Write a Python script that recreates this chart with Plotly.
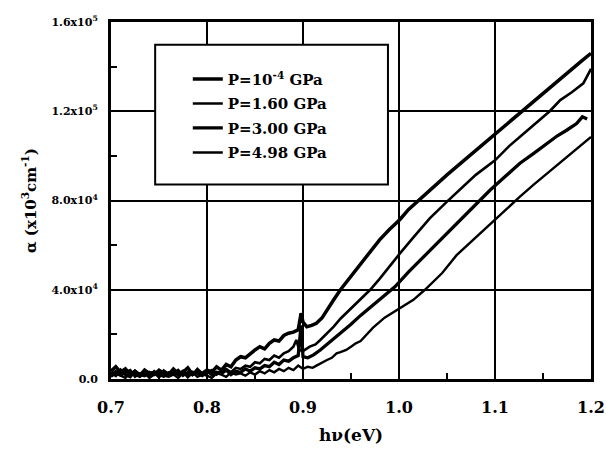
import plotly.graph_objects as go

# ---------------- data ----------------
noise_hv = [0.700, 0.705, 0.710, 0.715, 0.720, 0.725, 0.730, 0.735, 0.740,
            0.745, 0.750, 0.755, 0.760, 0.765, 0.770, 0.775, 0.780, 0.785,
            0.790, 0.795, 0.800, 0.805, 0.810, 0.815, 0.820, 0.825, 0.830]

# P = 1e-4 GPa
hv_a = noise_hv + [0.835, 0.840, 0.845, 0.850, 0.855, 0.860, 0.865, 0.870, 0.875,
                   0.880, 0.885, 0.890, 0.895, 0.898, 0.900, 0.904, 0.909, 0.914,
                   0.920, 0.925, 0.932, 0.939, 0.950, 0.960, 0.970, 0.980, 0.990,
                   1.001, 1.010, 1.020, 1.035, 1.050, 1.065, 1.080, 1.101, 1.115,
                   1.128, 1.145, 1.160, 1.175, 1.190, 1.200]
alpha_a = [0.35, 0.55, 0.30, 0.45, 0.20, 0.35, 0.15, 0.40, 0.25, 0.30, 0.10, 0.35,
           0.20, 0.45, 0.25, 0.30, 0.50, 0.20, 0.35, 0.25, 0.40, 0.30, 0.55, 0.40,
           0.65, 0.55, 0.85,
           1.00, 0.95, 1.15, 1.30, 1.45, 1.35, 1.60, 1.75, 1.70,
           1.95, 2.05, 2.10, 2.20, 2.95, 2.55, 2.34, 2.40, 2.50,
           2.75, 3.10, 3.55, 4.00, 4.60, 5.20, 5.75, 6.25, 6.70,
           7.15, 7.60, 8.00, 8.55, 9.15, 9.70, 10.25, 11.00, 11.50,
           12.00, 12.65, 13.20, 13.70, 14.25, 14.60]

# P = 1.60 GPa
hv_b = noise_hv + [0.835, 0.840, 0.845, 0.850, 0.855, 0.860, 0.865, 0.870, 0.875,
                   0.880, 0.885, 0.890, 0.893, 0.896, 0.900, 0.907, 0.913, 0.918,
                   0.925, 0.932, 0.939, 0.950, 0.960, 0.970, 0.980, 0.990, 1.001,
                   1.015, 1.032, 1.050, 1.065, 1.080, 1.100, 1.115, 1.130, 1.145,
                   1.157, 1.168, 1.180, 1.192, 1.200]
alpha_b = [0.20, 0.35, 0.15, 0.30, 0.40, 0.10, 0.25, 0.30, 0.15, 0.35, 0.20, 0.10,
           0.30, 0.25, 0.40, 0.15, 0.30, 0.20, 0.45, 0.25, 0.30, 0.40, 0.20, 0.35,
           0.45, 0.30, 0.50,
           0.45, 0.60, 0.55, 0.75, 0.70, 0.90, 0.85, 1.05, 0.95,
           1.15, 1.25, 1.45, 1.75, 1.30, 1.25, 1.45, 1.55, 1.75,
           2.05, 2.35, 2.70, 3.15, 3.55, 4.00, 4.50, 5.05, 5.63,
           6.35, 7.20, 7.95, 8.55, 9.15, 9.80, 10.45, 11.00, 11.55,
           12.00, 12.50, 12.85, 13.25, 13.90]

# P = 3.00 GPa
hv_c = noise_hv + [0.835, 0.840, 0.845, 0.850, 0.855, 0.860, 0.865, 0.870, 0.875,
                   0.880, 0.885, 0.890, 0.895, 0.898, 0.900, 0.905, 0.911, 0.918,
                   0.925, 0.932, 0.939, 0.950, 0.960, 0.973, 0.985, 0.996, 1.010,
                   1.025, 1.043, 1.060, 1.074, 1.095, 1.110, 1.126, 1.140, 1.154,
                   1.165, 1.175, 1.185, 1.191, 1.196]
alpha_c = [0.30, 0.15, 0.40, 0.20, 0.10, 0.35, 0.20, 0.15, 0.30, 0.20, 0.40, 0.25,
           0.15, 0.30, 0.20, 0.35, 0.10, 0.30, 0.25, 0.15, 0.35, 0.20, 0.30, 0.25,
           0.40, 0.20, 0.35,
           0.30, 0.45, 0.35, 0.50, 0.45, 0.60, 0.55, 0.75, 0.65,
           0.85, 0.80, 0.95, 1.05, 2.40, 1.00, 0.95, 1.08, 1.30,
           1.55, 1.80, 2.08, 2.45, 2.85, 3.33, 3.75, 4.14, 4.80,
           5.45, 6.23, 7.00, 7.60, 8.47, 9.05, 9.67, 10.10, 10.56,
           10.90, 11.16, 11.45, 11.75, 11.65]

# P = 4.98 GPa
hv_d = noise_hv + [0.835, 0.840, 0.845, 0.850, 0.855, 0.860, 0.865, 0.870, 0.875,
                   0.880, 0.885, 0.890, 0.895, 0.900, 0.905, 0.910, 0.914, 0.920,
                   0.925, 0.930, 0.935, 0.939, 0.945, 0.950, 0.955, 0.960, 0.965,
                   0.973, 0.985, 1.001, 1.015, 1.027, 1.045, 1.060, 1.080, 1.102,
                   1.115, 1.126, 1.140, 1.154, 1.165, 1.175, 1.185, 1.195, 1.200]
alpha_d = [0.10, 0.25, 0.15, 0.05, 0.30, 0.20, 0.10, 0.25, 0.05, 0.20, 0.30, 0.15,
           0.10, 0.20, 0.05, 0.25, 0.15, 0.30, 0.10, 0.20, 0.15, 0.05, 0.25, 0.20,
           0.10, 0.30, 0.20,
           0.25, 0.15, 0.30, 0.20, 0.35, 0.25, 0.40, 0.30, 0.45,
           0.35, 0.50, 0.40, 0.60, 0.45, 0.55, 0.50, 0.60, 0.75,
           0.85, 0.95, 1.15, 1.20, 1.30, 1.45, 1.60, 1.70, 1.95,
           2.30, 2.75, 3.17, 3.55, 4.00, 4.75, 5.55, 6.35, 7.20,
           7.75, 8.17, 8.70, 9.20, 9.60, 9.96, 10.35, 10.70, 10.85]

series_names = ["P=10<sup>-4</sup> GPa", "P=1.60 GPa", "P=3.00 GPa", "P=4.98 GPa"]
series_hv = [hv_a, hv_b, hv_c, hv_d]
series_alpha = [alpha_a, alpha_b, alpha_c, alpha_d]
line_widths = [3.5, 2.6, 3.3, 2.4]

x_tickvals = [0.7, 0.8, 0.9, 1.0, 1.1, 1.2]
x_ticktext = ["0.7", "0.8", "0.9", "1.0", "1.1", "1.2"]
y_tickvals = [0, 4, 8, 12, 16]
y_ticktext = ["0.0", "4.0x10<sup>4</sup>", "8.0x10<sup>4</sup>",
              "1.2x10<sup>5</sup>", "1.6x10<sup>5</sup>"]

# ---------------- figure ----------------
FONT = "DejaVu Serif"
fig = go.Figure()
for i, (name, xs, ys, w) in enumerate(zip(series_names, series_hv, series_alpha, line_widths)):
    fig.add_trace(go.Scatter(
        x=xs, y=ys, mode="lines", name="<b>" + name + "</b>",
        legendgroup=f"g{i}", hoverinfo="skip",
        line=dict(color="black", width=w)))

axis_common = dict(
    showline=True, linewidth=3, linecolor="black", mirror=True,
    showgrid=True, gridcolor="black", gridwidth=2,
    ticks="inside", ticklen=6, tickwidth=2, tickcolor="black",
    zeroline=False, automargin=False,
)

fig.update_xaxes(
    range=[0.7, 1.2], tickvals=x_tickvals, ticktext=["<b>%s</b>" % t for t in x_ticktext],
    tickfont=dict(family=FONT, size=16, color="black"),
    ticklabelstandoff=12, ticklabeloverflow="allow",
    minor=dict(ticks="inside", ticklen=6, tickwidth=2, tickcolor="black",
               tick0=0.75, dtick=0.1, showgrid=False),
    title=dict(text="<b>hν(eV)</b>", font=dict(family=FONT, size=17, color="black"),
               standoff=13),
    **axis_common)

fig.update_yaxes(
    range=[0, 16], tickvals=y_tickvals, ticktext=["<b>%s</b>" % t for t in y_ticktext],
    tickfont=dict(family=FONT, size=11, color="black"),
    ticklabelstandoff=8,
    minor=dict(ticks="inside", ticklen=6, tickwidth=2, tickcolor="black",
               tick0=2, dtick=4, showgrid=False),
    title=dict(text="<b>α (x10<sup>3</sup>cm<sup>-1</sup>)</b>",
               font=dict(family=FONT, size=15, color="black"), standoff=12),
    **axis_common)

# legend frame
fig.add_shape(type="rect", xref="paper", yref="paper",
              x0=0.092, x1=0.577, y0=0.545, y1=0.936,
              fillcolor="white", line=dict(color="black", width=2), layer="above")

fig.update_layout(
    width=606, height=449,
    margin=dict(l=111, r=15, t=22, b=70),
    paper_bgcolor="white", plot_bgcolor="white",
    showlegend=True,
    legend=dict(x=0.160, y=0.886, xanchor="left", yanchor="top",
                bgcolor="rgba(0,0,0,0)", borderwidth=0,
                font=dict(family=FONT, size=15, color="black"),
                traceorder="grouped", tracegroupgap=2),
)

# drop the page's default 8px body margin and scrollbars so the figure fills the window
fig.write_html("out.html",
               config={"displayModeBar": False},
               post_script="document.body.style.margin='0';"
                           "document.documentElement.style.overflow='hidden';"
                           "document.body.style.overflow='hidden';")
